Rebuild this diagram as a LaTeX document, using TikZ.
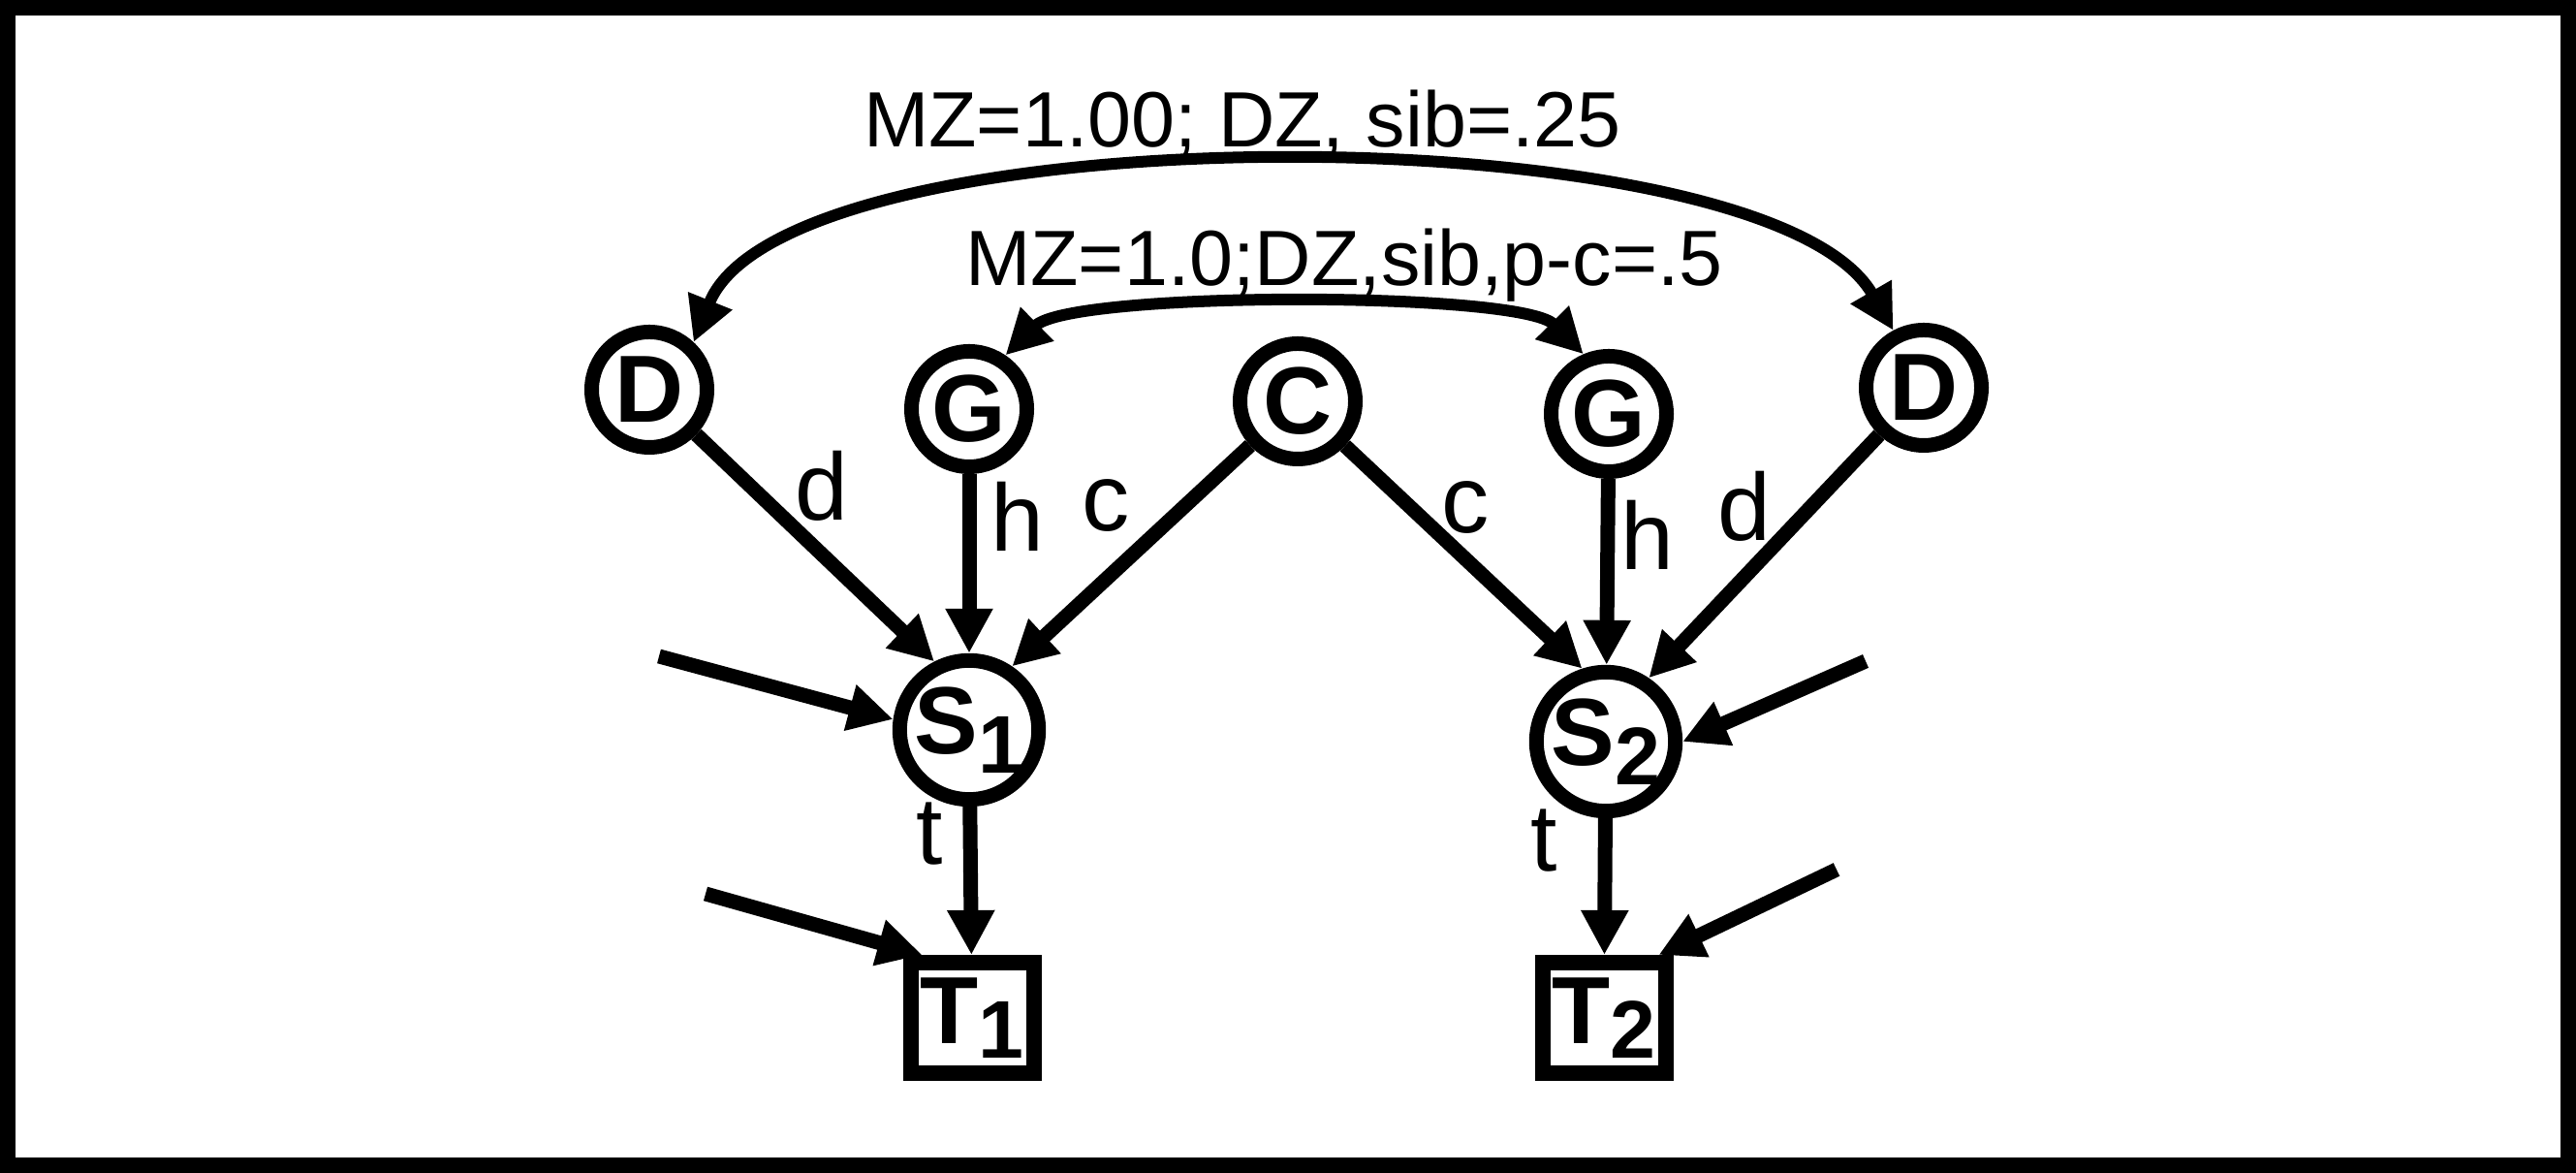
\documentclass[tikz,border=0pt]{standalone}
\usepackage{fontspec}
\setmainfont{Liberation Sans}
\usetikzlibrary{arrows.meta}

\begin{document}
\begin{tikzpicture}[>={Triangle[length=4.6mm,width=4.6mm]},
  latent/.style={circle, draw, line width=0.15cm, minimum size=1.19cm, inner sep=0pt,
    font=\fontsize{28}{30}\selectfont\bfseries},
  state/.style={latent, minimum size=1.32cm},
  observed/.style={rectangle, draw, line width=0.16cm, minimum width=1.27cm,
    minimum height=1.14cm, inner sep=0pt, font=\fontsize{28}{30}\selectfont\bfseries},
  elabel/.style={inner sep=0pt, font=\fontsize{28}{30}\selectfont},
  mlabel/.style={inner sep=0pt, anchor=base, font=\fontsize{23}{26}\selectfont},
  link/.style={->, line width=0.15cm}]
  \useasboundingbox (0,0) rectangle (26.58,12.10);
  \draw[line width=0.16cm] (0.08,0.08) rectangle (26.50,12.02);

  % relatives and the trait nodes
  \node[latent] (D1) at (6.70,8.08) {D};
  \node[latent] (G1) at (10.00,7.88) {G};
  \node[latent] (C) at (13.39,7.96) {C};
  \node[latent] (G2) at (16.60,7.83) {G};
  \node[latent] (D2) at (19.85,8.10) {D};
  \node[state] (S1) at (10.00,4.57) {S\raisebox{-0.2cm}{\fontsize{24}{24}\selectfont 1}};
  \node[state] (S2) at (16.57,4.45) {S\raisebox{-0.2cm}{\fontsize{24}{24}\selectfont 2}};
  \node[observed] (T1) at (10.03,1.60) {T\raisebox{-0.15cm}{\fontsize{24}{24}\selectfont 1}};
  \node[observed] (T2) at (16.55,1.60) {T\raisebox{-0.15cm}{\fontsize{24}{24}\selectfont 2}};

  \draw[link] (D1) -- (S1.117);
  \draw[link] (G1) -- (S1);
  \draw[link] (C) -- (S1.56);
  \draw[link] (C) -- (S2.108);
  \draw[link] (G2) -- (S2);
  \draw[link] (D2) -- (S2.56);
  \draw[link] (S1) -- (T1);
  \draw[link] (S2) -- (T2);

  % residual inputs
  \coordinate (s1in) at (6.80,5.33);
  \coordinate (t1in) at (7.28,2.88);
  \coordinate (s2in) at (19.25,5.28);
  \coordinate (t2in) at (18.95,3.13);
  \draw[link] (s1in) -- (S1.172);
  \draw[link] (t1in) -- ([xshift=0.2cm]T1.north west);
  \draw[link] (s2in) -- (S2.east);
  \draw[link] (t2in) -- ([xshift=-0.15cm]T2.north east);

  % correlations
  \draw[<->, line width=0.12cm] (D1.47) .. controls (8.12,10.97) and (18.22,10.97) .. (D2.118);
  \draw[<->, line width=0.12cm] (G1.56) .. controls (11.05,9.10) and (15.69,9.10) .. (G2.113);
  \node[mlabel] (mz1) at (12.82,10.58) {MZ=1.00; DZ, sib=.25};
  \node[mlabel] (mz2) at (13.87,9.15) {MZ=1.0;DZ,sib,p-c=.5};

  \node[elabel] (d1) at (8.48,7.09) {d};
  \node[elabel] (h1) at (10.50,6.77) {h};
  \node[elabel] (c1) at (11.41,6.88) {c};
  \node[elabel] (c2) at (15.12,6.86) {c};
  \node[elabel] (h2) at (17.00,6.58) {h};
  \node[elabel] (d2) at (18.00,6.88) {d};
  \node[elabel] (t1) at (9.59,3.50) {t};
  \node[elabel] (t2) at (15.93,3.43) {t};
\end{tikzpicture}
\end{document}
